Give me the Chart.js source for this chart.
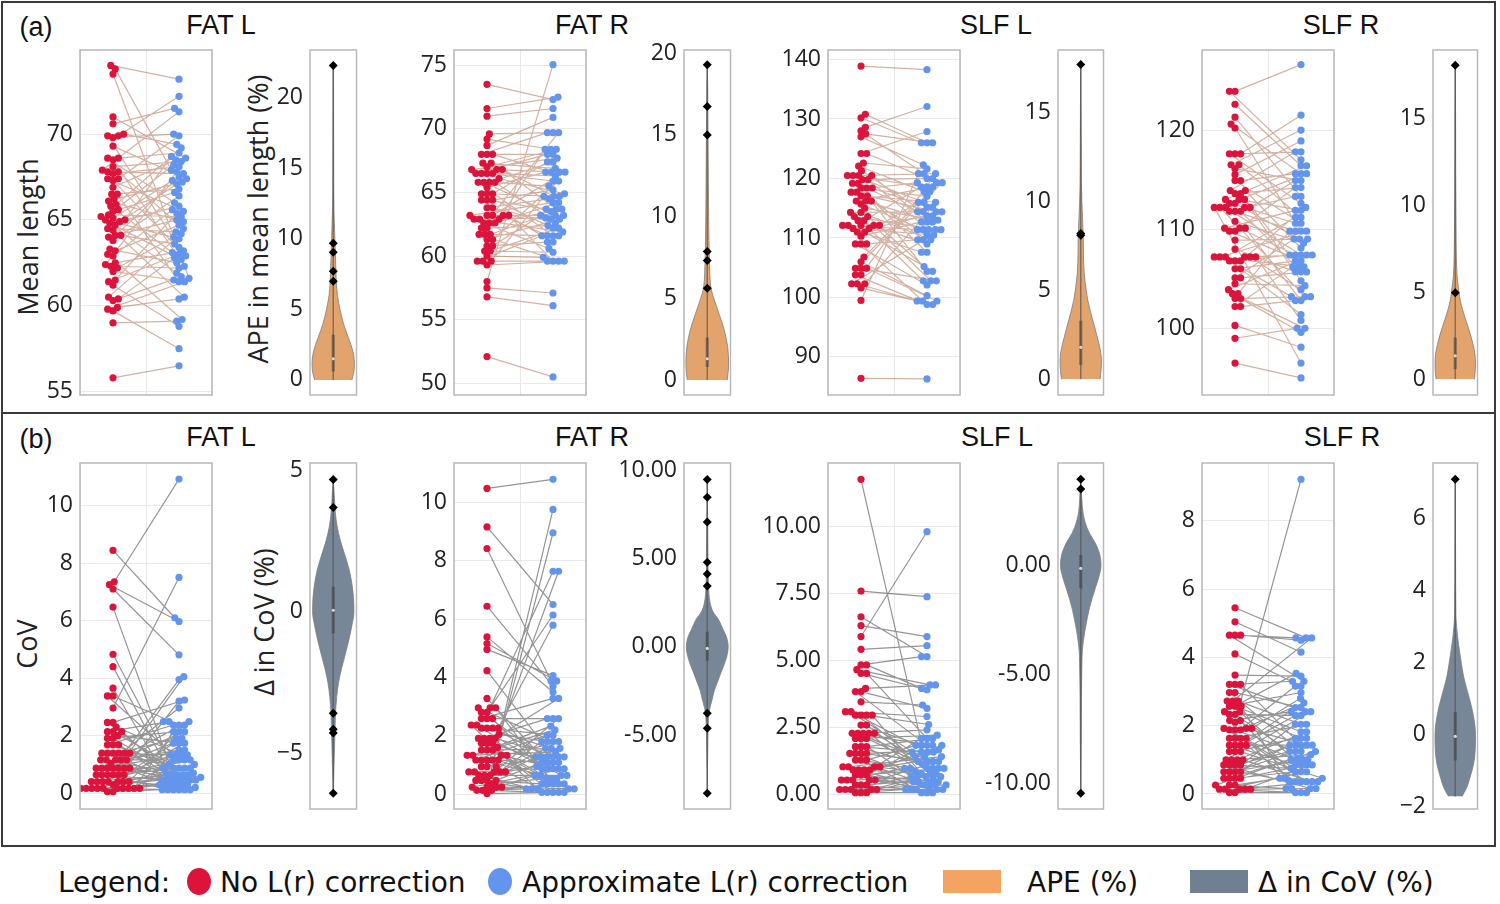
<!DOCTYPE html>
<html>
<head>
<meta charset="utf-8">
<script src="https://cdn.jsdelivr.net/npm/chart.js@4.4.1/dist/chart.umd.min.js"></script>
<style>
  body { margin: 0; width: 1500px; height: 904px; position: relative; overflow: hidden; background: #fff; }
  canvas { position: absolute; }
  .box { position: absolute; border: 2px solid #3a3a3a; box-sizing: border-box; }
  .c { position: absolute; transform: translate(-50%, -50%); white-space: nowrap; color: #111; }
  .ttl { font-family: "Liberation Sans", Arial, sans-serif; font-size: 27px; }
  .ax { font-family: "Open Sans", sans-serif; font-size: 27px; color: #222; }
  .rot { transform: translate(-50%, -50%) rotate(-90deg); }
  .lg { position: absolute; top: 882px; transform: translateY(-50%); font-family: "DejaVu Sans", sans-serif; font-size: 28px; color: #111; white-space: nowrap; }
  .sw { position: absolute; }
</style>
</head>
<body>
<div class="box" style="left:1px;top:1px;width:1495px;height:413px"></div>
<div class="box" style="left:1px;top:412px;width:1495px;height:435px"></div>

<div class="c ttl" style="left:36px;top:27px">(a)</div>
<div class="c ttl" style="left:36px;top:439px">(b)</div>
<div class="c ttl" style="left:221px;top:25px">FAT L</div>
<div class="c ttl" style="left:592px;top:25px">FAT R</div>
<div class="c ttl" style="left:996px;top:25px">SLF L</div>
<div class="c ttl" style="left:1341px;top:25px">SLF R</div>
<div class="c ttl" style="left:221px;top:437px">FAT L</div>
<div class="c ttl" style="left:592px;top:437px">FAT R</div>
<div class="c ttl" style="left:997px;top:437px">SLF L</div>
<div class="c ttl" style="left:1342px;top:437px">SLF R</div>

<div class="c ax rot" style="left:27px;top:237px">Mean length</div>
<div class="c ax rot" style="left:257px;top:219px">APE in mean length (%)</div>
<div class="c ax rot" style="left:26px;top:644px">CoV</div>
<div class="c ax rot" style="left:263px;top:622px">Δ in CoV (%)</div>

<div class="lg" style="left:58px">Legend:</div>
<div class="sw" style="left:187px;top:868px;width:24px;height:27px;border-radius:50%;background:#DC143C"></div>
<div class="lg" style="left:220px">No L(r) correction</div>
<div class="sw" style="left:488px;top:868px;width:24px;height:27px;border-radius:50%;background:#6495ED"></div>
<div class="lg" style="left:522px">Approximate L(r) correction</div>
<div class="sw" style="left:943px;top:870px;width:58px;height:23px;background:#F4A460"></div>
<div class="lg" style="left:1027px">APE (%)</div>
<div class="sw" style="left:1190px;top:870px;width:58px;height:23px;background:#708090"></div>
<div class="lg" style="left:1258px">Δ in CoV (%)</div>

<script>
// ---- (a) mean length, paired: index i of "approx" is the partner of index i of "none"
const fatL_len_none = [74.0,73.8,73.5,71.0,70.6,70.0,69.9,69.9,69.8,69.3, 68.6,68.6,68.5,68.1,67.9,67.8,67.8,67.7,67.4,67.4,
  67.3,66.9,66.5,66.5,66.2,66.1,65.9,65.8,65.6,65.5, 65.3,65.2,65.1,65.0,65.0,64.9,64.8,64.7,64.5,64.4,
  64.1,64.1,64.0,63.8,63.3,63.2,63.0,62.9,62.5,62.4, 62.3,62.2,62.0,61.5,61.4,61.2,60.5,60.4,60.3,59.9, 59.8,59.7,59.0,55.8];
const fatL_len_approx = [73.2,67.9,61.6,68.6,71.5,69.4,72.2,63.4,70.0,67.4, 68.9,66.0,62.3,68.4,71.3,67.7,64.5,68.1,69.9,65.5,
  62.9,68.5,66.8,61.4,67.2,64.9,69.2,63.1,66.6,68.2, 65.2,61.9,67.3,63.9,68.7,65.8,62.7,67.1,64.3,60.5,
  67.5,63.6,65.0,66.4,62.5,64.7,59.2,65.6,63.2,67.8, 62.2,64.0,61.5,65.4,63.0,58.8,64.2,62.8,61.7,60.4, 61.4,57.5,59.1,56.5];

const fatR_len_none = [73.5,71.6,71.0,69.6,69.2,68.7,68.0,68.0,68.0,67.3, 67.3,67.0,66.8,66.8,66.8,66.5,66.5,66.5,66.5,66.1,
  65.8,65.8,65.8,65.8,65.4,64.9,64.9,64.9,64.4,64.4, 64.4,63.8,63.8,63.2,63.2,63.2,63.2,63.2,62.9,62.9,
  62.9,62.6,62.6,62.6,62.2,62.2,61.7,61.7,61.7,61.3, 61.3,60.8,60.8,60.4,60.4,60.0,59.6,59.6,59.6,59.3, 58.0,57.5,56.8,52.1];
const fatR_len_approx = [72.3,72.5,71.6,69.7,68.4,70.9,68.0,66.6,69.7,66.9, 64.7,68.4,66.6,63.7,67.7,65.9,66.3,62.9,68.0,64.9,
  67.4,63.2,65.5,61.6,66.6,64.7,62.2,67.4,63.7,65.2, 61.1,64.5,62.6,63.2,66.6,61.6,64.2,59.6,63.0,68.4,
  61.9,63.5,60.6,64.2,62.4,69.7,61.6,63.7,59.6,62.9, 65.9,61.1,63.2,60.3,62.2,59.9,59.6,64.7,61.6,59.6, 75.05,57.1,56.1,50.5];

const slfL_len_none = [138.9,130.8,130.2,128.6,128.0,127.5,127.0,124.2,124.2,122.6, 122.1,121.3,120.5,120.5,120.5,120.5,119.8,119.8,119.2,119.2,
  118.4,118.4,118.4,117.7,117.7,117.1,117.1,116.2,116.2,116.2, 115.7,115.0,114.3,114.3,113.6,113.6,112.9,112.9,112.1,112.1,
  112.1,112.1,112.1,111.6,111.6,111.0,111.0,110.3,109.0,109.0, 109.0,106.8,106.0,104.9,104.9,104.9,103.8,103.8,102.3,102.3, 102.3,101.6,99.5,86.4];
const slfL_len_approx = [138.3,126.0,126.0,132.1,120.8,126.0,122.3,127.9,119.3,121.6, 117.8,114.4,120.8,116.0,112.7,118.6,120.0,111.4,115.2,109.7,
  117.0,113.7,119.3,110.5,114.4,116.0,107.6,112.7,118.6,104.4, 111.4,113.0,109.7,114.4,105.2,111.4,118.6,109.0,113.7,102.8,
  111.4,116.0,107.6,110.5,102.8,114.4,104.4,112.7,99.4,109.7, 102.1,117.8,100.3,102.8,119.3,99.4,120.0,98.8,99.4,115.2, 111.4,98.8,120.8,86.3];

const slfR_len_none = [123.9,123.9,122.6,121.3,120.6,120.2,117.6,117.6,117.6,116.5, 116.5,116.1,115.5,114.9,114.9,113.9,113.9,113.6,113.6,113.0,
  113.0,113.0,112.6,112.6,112.2,112.2,112.2,112.2,112.2,111.8, 111.8,111.8,110.8,110.1,110.1,110.1,109.8,109.8,108.9,108.0,
  107.2,107.2,107.2,107.2,107.2,107.2,106.8,106.8,106.8,106.0, 106.0,105.1,105.1,104.5,103.9,103.5,103.5,103.0,103.0,102.2, 102.2,100.3,99.0,96.5];
const slfR_len_approx = [126.6,117.0,116.4,113.3,115.6,109.8,117.8,121.5,112.6,120.0, 111.2,114.9,118.9,110.6,115.6,117.8,108.1,114.2,106.2,111.9,
  116.4,104.8,109.0,115.6,107.4,110.6,103.2,114.9,96.5,109.8, 113.3,105.7,108.6,107.4,111.9,102.8,114.2,106.8,109.0,105.7,
  107.4,111.2,103.9,109.8,100.8,106.2,107.4,112.2,103.2,106.8, 101.4,109.0,105.7,104.3,107.4,100.0,109.8,103.2,99.6,106.2, 102.8,98.1,100.0,95.0];

// ---- (b) CoV, paired
const fatL_cov_none = [8.44,7.35,7.25,7.10,6.47,4.83,4.40,3.65,3.38,3.38, 2.96,2.46,2.46,2.30,2.14,2.14,2.14,2.00,1.91,1.91,
  1.68,1.68,1.68,1.39,1.39,1.39,1.39,1.39,1.39,1.16, 1.16,1.16,1.16,1.16,1.05,0.87,0.87,0.87,0.87,0.87,
  0.87,0.87,0.64,0.64,0.64,0.64,0.64,0.64,0.40,0.40, 0.40,0.40,0.40,0.40,0.40,0.30,0.17,0.17,0.17,0.17,
  0.17,0.17,0.17,0.17,0.17,0.17,0.05,0.05];
const fatL_cov_approx = [6.10,10.92,5.97,4.81,0.12,0.46,0.29,0.12,2.37,1.16, 7.50,3.24,0.64,1.33,0.87,2.49,0.29,1.74,0.46,2.14,
  1.00,0.70,2.37,0.87,1.91,0.46,3.95,1.33,0.12,2.49, 0.64,1.50,0.29,1.16,2.14,0.46,1.74,0.87,2.96,0.55,
  1.33,0.29,1.16,0.12,2.49,0.87,1.91,0.46,4.05,0.64, 1.50,0.20,1.16,2.37,0.70,3.20,0.46,1.74,0.87,0.29,
  1.00,0.12,2.14,0.64,1.33,0.46,0.29,0.12];

const fatR_cov_none = [10.48,9.16,8.42,6.44,5.39,5.16,4.96,4.23,3.28,2.96, 2.96,2.96,2.80,2.80,2.59,2.59,2.59,2.37,2.37,2.26,
  2.26,2.26,2.26,2.05,1.91,1.91,1.91,1.91,1.74,1.74, 1.74,1.60,1.51,1.51,1.51,1.33,1.33,1.33,1.33,1.17,
  1.17,1.17,1.17,1.17,0.94,0.94,0.94,0.76,0.76,0.76, 0.76,0.76,0.64,0.64,0.64,0.47,0.47,0.47,0.47,0.35,
  0.24,0.24,0.24,0.24,0.13,0.13,0.13,0.02];
const fatR_cov_approx = [10.79,6.50,3.88,3.70,3.50,3.88,4.06,1.28,0.87,7.64, 1.80,0.35,6.14,1.08,2.59,0.53,3.28,1.57,0.18,2.02,
  1.28,0.64,5.79,1.80,0.87,2.59,1.28,0.06,3.28,1.08, 0.35,2.20,1.57,0.64,1.28,2.33,0.87,1.45,0.18,1.80,
  0.53,1.08,2.02,0.35,7.64,1.28,0.06,2.59,0.87,1.57, 0.18,1.28,0.95,8.96,0.64,1.80,0.35,1.08,0.06,0.53,
  9.76,0.64,0.18,0.87,0.35,0.06,0.18,0.06];

const slfL_cov_none = [11.77,7.59,6.63,6.30,5.89,5.41,4.83,4.83,4.65,4.51, 4.51,3.95,3.83,3.83,3.45,3.08,3.08,2.95,2.95,2.95,
  2.95,2.58,2.58,2.27,2.27,2.27,2.27,2.27,2.08,2.08, 2.08,1.77,1.77,1.77,1.52,1.52,1.52,1.52,1.27,1.27,
  1.27,1.02,1.02,1.02,1.02,0.90,0.90,0.90,0.90,0.71, 0.71,0.71,0.52,0.52,0.52,0.52,0.52,0.34,0.34,0.34,
  0.17,0.17,0.17,0.17,0.17,0.05,0.05,0.05];
const slfL_cov_approx = [1.40,7.38,5.14,5.89,9.81,5.55,5.14,3.95,4.08,3.90, 2.08,4.08,3.20,1.82,3.33,1.57,2.90,0.96,2.60,1.22,
  0.46,1.82,0.77,2.40,1.40,0.65,1.82,0.96,2.20,1.10, 0.34,1.57,0.96,2.08,1.22,0.65,1.65,0.17,0.96,1.82,
  0.46,1.40,0.85,0.25,1.57,0.77,1.22,0.05,2.08,0.96, 0.46,1.57,0.65,0.17,1.82,0.34,0.96,1.22,0.17,0.55,
  0.65,0.77,0.17,0.46,0.34,0.05,0.17,0.05];

const slfR_cov_none = [5.45,5.04,4.65,4.65,4.65,4.10,3.48,3.21,3.21,3.21, 2.97,2.97,2.72,2.72,2.72,2.57,2.57,2.57,2.41,2.41,
  2.33,2.33,2.15,2.15,2.10,1.92,1.92,1.92,1.88,1.88, 1.88,1.63,1.63,1.63,1.63,1.43,1.43,1.43,1.43,1.24,
  1.24,1.24,1.00,1.00,1.00,1.00,0.85,0.85,0.85,0.85, 0.65,0.65,0.65,0.65,0.46,0.46,0.46,0.46,0.26,0.26,
  0.26,0.14,0.14,0.14,0.14,0.14,0.04,0.04];
const slfR_cov_approx = [4.57,4.15,4.57,4.50,3.30,3.16,3.45,3.30,2.41,1.43, 2.53,1.24,4.57,2.04,0.85,1.82,2.97,0.46,1.63,3.53,
  1.01,2.30,0.36,2.41,9.21,1.43,0.65,2.80,1.24,2.67, 0.36,2.04,1.01,3.16,0.16,1.43,2.53,0.85,0.36,1.63,
  2.30,0.46,1.82,1.15,0.36,2.41,1.24,0.75,2.04,0.16, 1.43,1.01,0.36,1.63,0.65,1.24,0.85,1.43,0.46,0.16,
  1.01,0.36,0.65,0.85,0.04,0.16,0.04,0.04];

// ---- violins: levels, half widths, outliers, [q1, median, q3]
const fatL_ape_y = [0,0.5,1,1.5,2,2.5,3,3.5,4,4.5,5,5.5,6,7,8,9,10,11,12,14,17,20,22.3];
const fatL_ape_w = [0.80,0.88,0.91,0.90,0.85,0.76,0.65,0.54,0.44,0.36,0.29,0.23,0.18,0.13,0.11,0.09,0.07,0.05,0.03,0.02,0.015,0.01,0];
const fatL_ape_out = [22.3,9.7,9.05,7.7,7.0];
const fatL_ape_box = [0.6,1.5,3.2];

const fatR_ape_y = [0,0.5,1,1.5,2,2.5,3,3.5,4,4.5,5,5.5,6,7,8,10,12,14,16,18,19.3];
const fatR_ape_w = [0.86,0.90,0.92,0.91,0.88,0.82,0.74,0.64,0.52,0.40,0.28,0.18,0.13,0.10,0.08,0.06,0.05,0.04,0.03,0.02,0];
const fatR_ape_out = [19.3,16.74,15.0,7.86,7.31,5.61];
const fatR_ape_box = [0.8,1.3,2.6];

const slfL_ape_y = [0,0.5,1,1.5,2,2.5,3,3.5,4,4.5,5,5.5,6,7,8,9,10,11,13,15,17.7];
const slfL_ape_w = [0.85,0.89,0.91,0.88,0.80,0.70,0.60,0.49,0.39,0.30,0.24,0.19,0.15,0.12,0.11,0.08,0.05,0.03,0.02,0.015,0];
const slfL_ape_out = [17.7,8.2,8.1];
const slfL_ape_box = [0.8,1.8,3.3];

const slfR_ape_y = [0,0.5,1,1.5,2,2.5,3,3.5,4,4.5,5,5.5,6,7,8,10,12,15,18.06];
const slfR_ape_w = [0.86,0.90,0.91,0.88,0.80,0.70,0.58,0.45,0.33,0.23,0.17,0.12,0.08,0.05,0.04,0.03,0.02,0.015,0];
const slfR_ape_out = [18.06,4.98];
const slfR_ape_box = [0.6,1.35,2.4];

const fatL_dcov_y = [-6.41,-5.5,-4.6,-4.0,-3.5,-3.0,-2.5,-2.0,-1.5,-1.0,-0.5,0,0.5,1.0,1.5,2.0,2.5,3.0,3.5,4.0,4.67];
const fatL_dcov_w = [0,0.03,0.06,0.08,0.10,0.15,0.23,0.36,0.52,0.67,0.80,0.89,0.87,0.80,0.68,0.50,0.31,0.17,0.09,0.05,0];
const fatL_dcov_out = [4.67,3.68,-3.59,-4.15,-4.29,-6.41];
const fatL_dcov_box = [-0.76,0.05,0.88];

const fatR_dcov_y = [-8.3,-6,-4.5,-4.0,-3.5,-3.0,-2.5,-2.0,-1.5,-1.0,-0.5,0,0.5,1.0,1.5,2.0,2.5,3.0,3.5,5,7,9.47];
const fatR_dcov_w = [0,0.02,0.04,0.06,0.11,0.21,0.30,0.44,0.58,0.73,0.85,0.90,0.84,0.67,0.50,0.24,0.12,0.07,0.05,0.03,0.02,0];
const fatR_dcov_out = [9.47,8.46,7.06,4.78,4.12,3.44,-3.77,-4.62,-8.3];
const fatR_dcov_box = [-0.79,-0.1,0.85];

const slfL_dcov_y = [-10.46,-8,-6,-4.5,-3.9,-3.5,-3.0,-2.5,-2.0,-1.5,-1.0,-0.5,0,0.5,1.0,1.5,2.0,2.5,3.0,3.97];
const slfL_dcov_w = [0,0.02,0.03,0.05,0.07,0.11,0.18,0.27,0.37,0.50,0.65,0.80,0.89,0.84,0.66,0.38,0.19,0.09,0.05,0];
const slfL_dcov_out = [3.97,3.52,-10.46];
const slfL_dcov_box = [-1.04,-0.12,0.49];

const slfR_dcov_y = [-1.72,-1.5,-1.2,-0.8,-0.4,0,0.4,0.8,1.2,1.6,2.0,2.5,3.0,3.3,5,7.1];
const slfR_dcov_w = [0.30,0.50,0.66,0.83,0.90,0.91,0.85,0.72,0.55,0.38,0.27,0.15,0.06,0.03,0.015,0];
const slfR_dcov_out = [7.1];
const slfR_dcov_box = [-0.72,-0.05,0.63];

// ---- layout
const AXIS_W = 80, PAD_T = 26, PAD_B = 26, PAD_R = 4;
const RED = '#DC143C', BLUE = '#6495ED';
const intFmt = v => String(v);
const minusFmt = v => (v < 0 ? '\u2212' + Math.abs(v) : String(v));
const fix2 = v => v.toFixed(2);

const framePlugin = {
  id: 'frame',
  afterDraw(chart) {
    const a = chart.chartArea, ctx = chart.ctx;
    ctx.save();
    ctx.strokeStyle = '#b8b8b8';
    ctx.lineWidth = 1.5;
    ctx.strokeRect(a.left, a.top, a.right - a.left, a.bottom - a.top);
    ctx.restore();
  }
};

function place(l, t, w, h) {
  const c = document.createElement('canvas');
  c.width = w; c.height = h;
  c.style.left = l + 'px'; c.style.top = t + 'px';
  c.style.width = w + 'px'; c.style.height = h + 'px';
  document.body.appendChild(c);
  return c;
}

function yScale(min, max, step, fmt, grid) {
  return {
    type: 'linear', min, max, position: 'left',
    afterFit: s => { s.width = AXIS_W; },
    ticks: { stepSize: step, includeBounds: false, padding: 7, color: '#222',
             font: { family: 'Open Sans', size: 23 }, callback: fmt },
    grid: { display: grid, color: '#e9e9e9', drawTicks: false },
    border: { display: false }
  };
}

// beeswarm: each dot goes to the free spot nearest the category centre
function swarm(vals, center, ymin, ymax, hPx, wPx) {
  const ky = hPx / (ymax - ymin), kx = wPx / 2, d = 5.6;
  const order = vals.map((v, i) => i).sort((a, b) => vals[a] - vals[b]);
  const placed = [], xs = new Array(vals.length);
  order.forEach((i, n) => {
    const py = vals[i] * ky;
    const near = placed.filter(p => Math.abs(p.y - py) < d);
    const cands = [0];
    near.forEach(p => {
      const dx = Math.sqrt(d * d - (p.y - py) ** 2);
      cands.push(p.x + dx, p.x - dx);
    });
    const sgn = n % 2 ? 1 : -1;
    cands.sort((a, b) => Math.abs(a) - Math.abs(b) || sgn * (a - b));
    const off = cands.find(cx => near.every(p => (p.x - cx) ** 2 + (p.y - py) ** 2 >= d * d - 0.01));
    placed.push({ x: off, y: py });
    xs[i] = center + off / kx;
  });
  return xs;
}

const baseOpts = {
  responsive: false, animation: false, devicePixelRatio: 1, events: [],
  plugins: { legend: { display: false }, tooltip: { enabled: false } },
  layout: { padding: { top: PAD_T, bottom: PAD_B, right: PAD_R, left: 0 } }
};

function paired(f, none, approx, ymin, ymax, step, fmt, lineColor) {
  const w = f.r - f.l, h = f.b - f.t;
  const c = place(f.l - AXIS_W, f.t - PAD_T, w + AXIS_W + PAD_R, h + PAD_T + PAD_B);
  const xr = swarm(none, 0, ymin, ymax, h, w), xb = swarm(approx, 1, ymin, ymax, h, w);
  const links = [];
  none.forEach((v, i) => links.push({ x: xr[i], y: v }, { x: xb[i], y: approx[i] }, { x: null, y: null }));
  new Chart(c, {
    type: 'scatter',
    data: { datasets: [
      { data: none.map((v, i) => ({ x: xr[i], y: v })), pointRadius: 3.6, pointBackgroundColor: RED, pointBorderWidth: 0 },
      { data: approx.map((v, i) => ({ x: xb[i], y: v })), pointRadius: 3.6, pointBackgroundColor: BLUE, pointBorderWidth: 0 },
      { data: links, showLine: true, spanGaps: false, borderColor: lineColor, borderWidth: 1.2, pointRadius: 0 }
    ] },
    options: Object.assign({}, baseOpts, {
      scales: {
        x: { type: 'linear', min: -0.5, max: 1.5, afterFit: s => { s.height = 0; },
             ticks: { display: false, stepSize: 1, includeBounds: false },
             grid: { color: '#e9e9e9', drawTicks: false }, border: { display: false } },
        y: yScale(ymin, ymax, step, fmt, true)
      }
    }),
    plugins: [framePlugin]
  });
}

function violin(f, vy, vw, out, box, ymin, ymax, step, fmt, fill) {
  const w = f.r - f.l, h = f.b - f.t;
  const c = place(f.l - AXIS_W, f.t - PAD_T, w + AXIS_W + PAD_R, h + PAD_T + PAD_B);
  const half = s => vy.map((y, i) => ({ x: s * vw[i], y }));
  const edge = { fill: 'origin', backgroundColor: fill, borderColor: 'rgba(125,125,125,0.8)', borderWidth: 1,
                 pointRadius: 0, cubicInterpolationMode: 'monotone' };
  new Chart(c, {
    type: 'line',
    data: { datasets: [
      { data: out.map(y => ({ x: 0, y })), showLine: false, pointStyle: 'rectRot', pointRadius: 4.5,
        pointBackgroundColor: '#000', pointBorderWidth: 0 },
      { data: [{ x: 0, y: box[1] }], showLine: false, pointRadius: 1.6, pointBackgroundColor: '#d8d8d8', pointBorderWidth: 0 },
      { data: [{ x: 0, y: box[0] }, { x: 0, y: box[2] }], borderColor: 'rgba(60,60,60,0.5)', borderWidth: 3.2, pointRadius: 0 },
      { data: [{ x: 0, y: vy[0] }, { x: 0, y: vy[vy.length - 1] }], borderColor: 'rgba(70,70,70,0.7)', borderWidth: 1.3, pointRadius: 0 },
      Object.assign({ data: half(1) }, edge),
      Object.assign({ data: half(-1) }, edge)
    ] },
    options: Object.assign({}, baseOpts, {
      indexAxis: 'y',
      scales: {
        x: { type: 'linear', min: -1, max: 1, display: false },
        y: yScale(ymin, ymax, step, fmt, false)
      }
    }),
    plugins: [framePlugin]
  });
}

const TOP = { t: 50, b: 395 }, BOT = { t: 463, b: 809 };
const COLS = { p1: [80, 212], v1: [310, 357], p2: [454, 586], v2: [684, 731],
               p3: [828, 960], v3: [1058, 1104], p4: [1202, 1334], v4: [1433, 1478] };
const fr = (col, row) => ({ l: COLS[col][0], r: COLS[col][1], t: row.t, b: row.b });

const LEN_LINK = 'rgba(150,72,35,0.42)', COV_LINK = 'rgba(20,20,20,0.45)';
const ORANGE = '#E2A46C', SLATE = '#788797';

paired(fr('p1', TOP), fatL_len_none, fatL_len_approx, 54.8, 74.9, 5, intFmt, LEN_LINK);
violin(fr('v1', TOP), fatL_ape_y, fatL_ape_w, fatL_ape_out, fatL_ape_box, -1.07, 23.4, 5, intFmt, ORANGE);
paired(fr('p2', TOP), fatR_len_none, fatR_len_approx, 49.08, 76.2, 5, intFmt, LEN_LINK);
violin(fr('v2', TOP), fatR_ape_y, fatR_ape_w, fatR_ape_out, fatR_ape_box, -0.92, 20.2, 5, intFmt, ORANGE);
paired(fr('p3', TOP), slfL_len_none, slfL_len_approx, 83.6, 141.6, 10, intFmt, LEN_LINK);
violin(fr('v3', TOP), slfL_ape_y, slfL_ape_w, slfL_ape_out, slfL_ape_box, -0.88, 18.52, 5, intFmt, ORANGE);
paired(fr('p4', TOP), slfR_len_none, slfR_len_approx, 93.28, 128.07, 10, intFmt, LEN_LINK);
violin(fr('v4', TOP), slfR_ape_y, slfR_ape_w, slfR_ape_out, slfR_ape_box, -0.9, 18.93, 5, intFmt, ORANGE);

paired(fr('p1', BOT), fatL_cov_none, fatL_cov_approx, -0.55, 11.48, 2, intFmt, COV_LINK);
violin(fr('v1', BOT), fatL_dcov_y, fatL_dcov_w, fatL_dcov_out, fatL_dcov_box, -6.97, 5.25, 5, minusFmt, SLATE);
paired(fr('p2', BOT), fatR_cov_none, fatR_cov_approx, -0.51, 11.35, 2, intFmt, COV_LINK);
violin(fr('v2', BOT), fatR_dcov_y, fatR_dcov_w, fatR_dcov_out, fatR_dcov_box, -9.19, 10.4, 5, fix2, SLATE);
paired(fr('p3', BOT), slfL_cov_none, slfL_cov_approx, -0.56, 12.38, 2.5, fix2, COV_LINK);
violin(fr('v3', BOT), slfL_dcov_y, slfL_dcov_w, slfL_dcov_out, slfL_dcov_box, -11.18, 4.72, 5, fix2, SLATE);
paired(fr('p4', BOT), slfR_cov_none, slfR_cov_approx, -0.44, 9.69, 2, intFmt, COV_LINK);
violin(fr('v4', BOT), slfR_dcov_y, slfR_dcov_w, slfR_dcov_out, slfR_dcov_box, -2.07, 7.55, 2, minusFmt, SLATE);
</script>
</body>
</html>
